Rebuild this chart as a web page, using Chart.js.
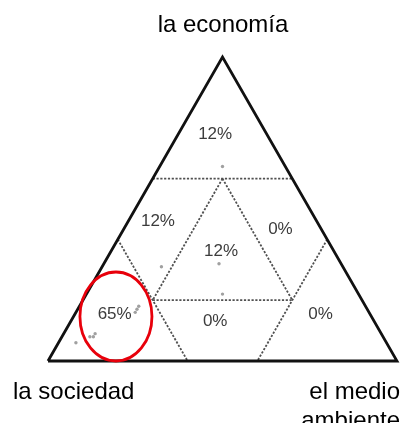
<!DOCTYPE html>
<html>
<head>
<meta charset="utf-8">
<script src="https://cdn.jsdelivr.net/npm/chart.js@4/dist/chart.umd.min.js"></script>
<style>
  html, body { margin: 0; padding: 0; background: #fff; }
  #wrap { width: 405px; height: 423px; }
</style>
</head>
<body>
<div id="wrap"><canvas id="ternary" width="405" height="423"></canvas></div>
<script>
// corner names: bottom-left, bottom-right, top
const corners = ["la sociedad", "el medio ambiente", "la economía"];

// share of answers in each zone
const zoneNames = ["economía", "economía-sociedad", "equilibrio", "economía-medio", "sociedad", "sociedad-medio", "medio ambiente"];
const zoneShares = ["12%", "12%", "12%", "0%", "65%", "0%", "0%"];

// individual answers (fractions of sociedad / medio ambiente / economía)
const sampleSociedad = [0.18, 0.52, 0.35, 0.39, 0.65, 0.66, 0.67, 0.82, 0.83, 0.84, 0.89];
const sampleMedio    = [0.18, 0.17, 0.33, 0.39, 0.17, 0.17, 0.17, 0.09, 0.09, 0.08, 0.05];
const sampleEconomia = [0.64, 0.31, 0.32, 0.22, 0.18, 0.17, 0.16, 0.09, 0.08, 0.08, 0.06];

// dashed division lines, each as two endpoints {s, m, e}
const gridLines = [
  [{ s: 0.4, m: 0.0, e: 0.6 }, { s: 0.0, m: 0.4, e: 0.6 }],
  [{ s: 0.6, m: 0.2, e: 0.2 }, { s: 0.2, m: 0.6, e: 0.2 }],
  [{ s: 0.6, m: 0.0, e: 0.4 }, { s: 0.6, m: 0.4, e: 0.0 }],
  [{ s: 0.0, m: 0.6, e: 0.4 }, { s: 0.4, m: 0.6, e: 0.0 }],
  [{ s: 0.2, m: 0.2, e: 0.6 }, { s: 0.6, m: 0.2, e: 0.2 }],
  [{ s: 0.2, m: 0.2, e: 0.6 }, { s: 0.2, m: 0.6, e: 0.2 }]
];

// ternary -> plot coordinates (x across base, y = height fraction)
function toXY(p) {
  return { x: p.m + p.e / 2, y: p.e };
}

const outline = [
  { s: 1, m: 0, e: 0 }, { s: 0, m: 1, e: 0 }, { s: 0, m: 0, e: 1 }, { s: 1, m: 0, e: 0 }
].map(toXY);

// where the zone percentages sit (plot coordinates)
const zoneAnchors = [
  [0.479, 0.747], [0.315, 0.459], [0.496, 0.362], [0.666, 0.434],
  [0.191, 0.153], [0.479, 0.130], [0.781, 0.153]
];

const datasets = [
  {
    data: outline,
    showLine: true,
    borderColor: "#111",
    borderWidth: 2.8,
    borderJoinStyle: "miter",
    pointRadius: 0,
    clip: false,
    order: 0
  }
];

gridLines.forEach((seg) => {
  datasets.push({
    data: seg.map(toXY),
    showLine: true,
    borderColor: "#505050",
    borderWidth: 1.8,
    borderDash: [2.2, 1.6],
    pointRadius: 0,
    clip: false,
    order: 1
  });
});

datasets.push({
  data: sampleEconomia.map((e, i) => toXY({ s: sampleSociedad[i], m: sampleMedio[i], e: e })),
  pointRadius: 1.7,
  pointBackgroundColor: "#a0a0a0",
  pointBorderWidth: 0,
  clip: false,
  order: 2
});

const labelsPlugin = {
  id: "ternaryLabels",
  afterDatasetsDraw(chart) {
    const { ctx, scales } = chart;
    const px = (v) => scales.x.getPixelForValue(v);
    const py = (v) => scales.y.getPixelForValue(v);
    ctx.save();

    // zone percentages
    ctx.fillStyle = "#3c3c3c";
    ctx.font = "17px 'Liberation Sans', Arial, sans-serif";
    ctx.textAlign = "center";
    ctx.textBaseline = "middle";
    zoneShares.forEach((txt, i) => {
      const [x, y] = zoneAnchors[i];
      ctx.fillText(txt, px(x), py(y));
    });

    // red ellipse around the dominant zone
    ctx.strokeStyle = "#e8000b";
    ctx.lineWidth = 2.8;
    ctx.beginPath();
    const cx = px(0.1947), cy = py(0.1464);
    const rx = px(0.1947 + 0.1032) - cx;
    const ry = cy - py(0.1464 + 0.1464);
    ctx.ellipse(cx, cy, rx, ry, 0, 0, Math.PI * 2);
    ctx.stroke();

    // corner names
    ctx.fillStyle = "#000";
    ctx.font = "24px 'Liberation Sans', Arial, sans-serif";
    ctx.textBaseline = "alphabetic";
    ctx.textAlign = "center";
    ctx.fillText(corners[2], 223, 32);
    ctx.textAlign = "left";
    ctx.fillText(corners[0], 13, 399);
    ctx.textAlign = "right";
    const parts = corners[1].split(" ");
    ctx.fillText(parts[0] + " " + parts[1], 400, 399);
    ctx.fillText(parts[2], 400, 428);
    ctx.restore();
  }
};

new Chart(document.querySelector("#ternary"), {
  type: "scatter",
  data: { datasets },
  options: {
    responsive: false,
    animation: false,
    events: [],
    layout: { padding: { left: 48, right: 8, top: 57, bottom: 62 } },
    plugins: { legend: { display: false }, tooltip: { enabled: false }, title: { display: false } },
    scales: {
      x: { type: "linear", min: 0, max: 1, display: false },
      y: { type: "linear", min: 0, max: 1, display: false }
    }
  },
  plugins: [labelsPlugin]
});
</script>
</body>
</html>
